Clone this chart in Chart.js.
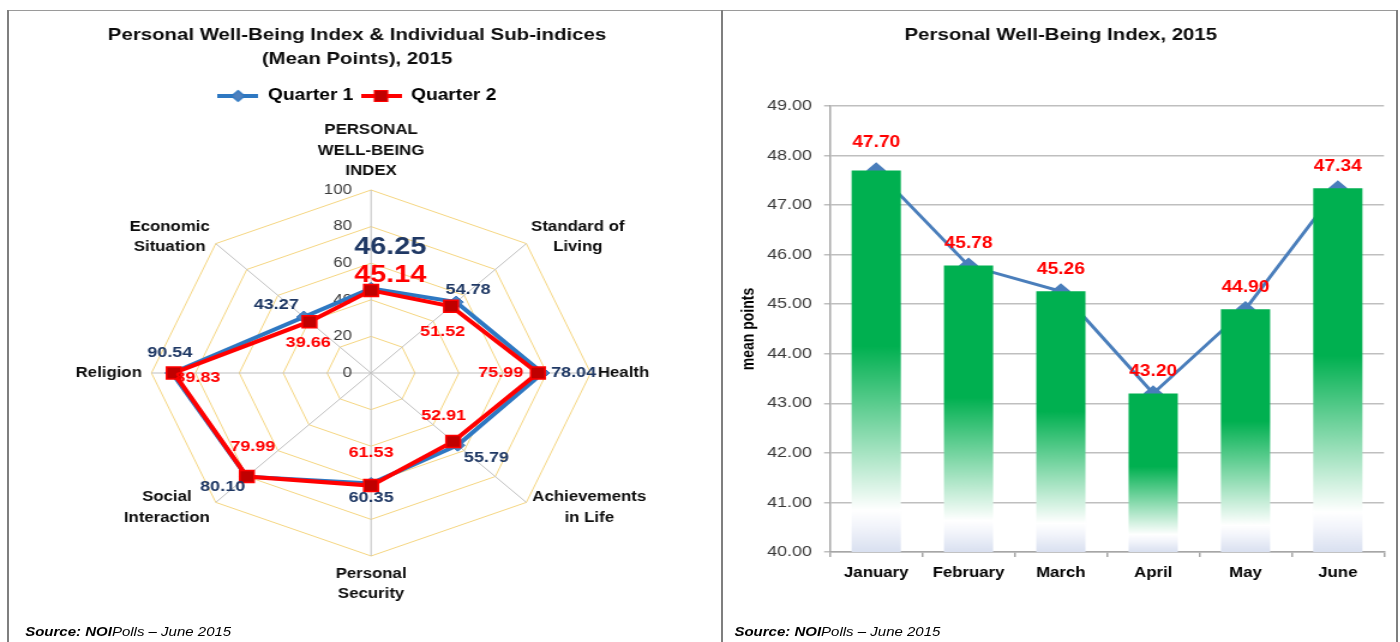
<!DOCTYPE html>
<html>
<head>
<meta charset="utf-8">
<script src="https://cdn.jsdelivr.net/npm/chart.js@4.4.1/dist/chart.umd.min.js"></script>
<style>
html,body{margin:0;padding:0;background:#fff;width:1400px;height:642px;overflow:hidden;}
#stage{position:absolute;left:0;top:0;width:1167px;height:642px;transform:scaleX(1.2);transform-origin:0 0;}
#radar{position:absolute;left:0;top:0;}
#bars{position:absolute;left:602px;top:0;}
.src{position:absolute;top:625px;font:italic 12.5px "Liberation Sans",Arial,sans-serif;color:#000;white-space:nowrap;}
.ln{position:absolute;background:#7f7f7f;}
</style>
</head>
<body>
<div id="stage">
  <canvas id="radar" width="600" height="642"></canvas>
  <canvas id="bars" width="564" height="642"></canvas>
  <div class="src" style="left:21px"><b>Source: NOI</b>Polls – June 2015</div>
  <div class="src" style="left:612px"><b>Source: NOI</b>Polls – June 2015</div>
</div>
<div class="ln" style="left:7px;top:10px;width:1391px;height:1px;background:#9a9a9a"></div>
<div class="ln" style="left:7px;top:10px;width:2px;height:632px"></div>
<div class="ln" style="left:721px;top:10px;width:2px;height:632px"></div>
<div class="ln" style="left:1396px;top:10px;width:2px;height:632px"></div>
<script>
// ---------- data ----------
const radarCategories = [
  ['PERSONAL', 'WELL-BEING', 'INDEX'],
  ['Standard of', 'Living'],
  ['Health'],
  ['Achievements', 'in Life'],
  ['Personal', 'Security'],
  ['Social', 'Interaction'],
  ['Religion'],
  ['Economic', 'Situation']
];
const seriesNames = ['Quarter 1', 'Quarter 2'];
const quarter1 = [46.25, 54.78, 78.04, 55.79, 60.35, 80.10, 90.54, 43.27];
const quarter2 = [45.14, 51.52, 75.99, 52.91, 61.53, 79.99, 89.83, 39.66];
const radarTickValues = [0, 20, 40, 60, 80, 100];

const months = ['January', 'February', 'March', 'April', 'May', 'June'];
const monthlyIndex = [47.70, 45.78, 45.26, 43.20, 44.90, 47.34];
const barTickValues = [40, 41, 42, 43, 44, 45, 46, 47, 48, 49];

// ---------- styles ----------
const FONT = '"Liberation Sans", Arial, sans-serif';
const Q1_LINE = '#2E78C2', Q1_MARK = '#4F81BD', Q1_TEXT = '#1F3864';
const Q2_LINE = '#FF0000', Q2_MARK = '#C00000', Q2_TEXT = '#FF0000';

const pointLabelPlacement = [
  {align: 'center', dx: 0, dy: -39},
  {align: 'left', dx: 4, dy: -6.6},
  {align: 'left', dx: 6, dy: 0},
  {align: 'left', dx: 5, dy: 5},
  {align: 'center', dx: 0, dy: 28},
  {align: 'right', dx: -5, dy: 5},
  {align: 'right', dx: -8, dy: 0},
  {align: 'right', dx: -5, dy: -6.6}
];
const q1LabelOffsets = [[16, -41], [10, -12], [26, 0], [24, 13], [0, 14], [-20, 10], [-2, -20], [-23, -12]];
const q2LabelOffsets = [[16, -15], [-7, 26], [-31, 0], [-8, -26], [0, -33], [5, -30], [20, 5], [-1, 21]];
const barLabelLift = [28, 22, 22, 22, 22, 22];

function legendIcon(line, fill, shape) {
  const c = document.createElement('canvas');
  c.width = 34; c.height = 14;
  const g = c.getContext('2d');
  g.strokeStyle = line; g.lineWidth = 4;
  g.beginPath(); g.moveTo(0, 7); g.lineTo(34, 7); g.stroke();
  g.fillStyle = fill; g.strokeStyle = line; g.lineWidth = 1.2;
  g.beginPath();
  if (shape === 'diamond') {
    g.moveTo(17, 1.5); g.lineTo(22.5, 7); g.lineTo(17, 12.5); g.lineTo(11.5, 7); g.closePath();
  } else {
    g.rect(11.5, 1.5, 11, 11);
  }
  g.fill(); g.stroke();
  return c;
}
const legendIcons = [legendIcon(Q1_LINE, Q1_MARK, 'diamond'), legendIcon(Q2_LINE, Q2_MARK, 'square')];

// ---------- radar text plugin ----------
const radarText = {
  id: 'radarText',
  beforeDatasetsDraw(chart) {
    const s = chart.scales.r, ctx = chart.ctx;
    ctx.save();
    ctx.font = '14px ' + FONT;
    ctx.fillStyle = '#3a3a3a';
    ctx.textAlign = 'right';
    ctx.textBaseline = 'middle';
    radarTickValues.forEach(v => {
      const d = s.getDistanceFromCenterForValue(v);
      ctx.fillText(String(v), s.xCenter - 16, s.yCenter - d);
    });
    ctx.restore();
  },
  afterDatasetsDraw(chart) {
    const ctx = chart.ctx, s = chart.scales.r;
    ctx.save();
    ctx.textAlign = 'center';
    ctx.textBaseline = 'middle';
    const sets = [[quarter1, q1LabelOffsets, Q1_TEXT], [quarter2, q2LabelOffsets, Q2_TEXT]];
    sets.forEach(([vals, offs, col], di) => {
      const meta = chart.getDatasetMeta(di);
      meta.data.forEach((el, i) => {
        ctx.font = 'bold ' + (i === 0 ? 24 : 15) + 'px ' + FONT;
        ctx.fillStyle = col;
        ctx.fillText(vals[i].toFixed(2), el.x + offs[i][0], el.y + offs[i][1]);
      });
    });
    // point labels
    ctx.font = 'bold 14px ' + FONT;
    ctx.fillStyle = '#0D0D0D';
    radarCategories.forEach((lines, i) => {
      const p = s.getPointPosition(i, s.drawingArea);
      const pl = pointLabelPlacement[i];
      const w = Math.max(...lines.map(t => ctx.measureText(t).width));
      let left = p.x + pl.dx;
      if (pl.align === 'right') left -= w;
      else if (pl.align === 'center') left -= w / 2;
      const cy = p.y + pl.dy;
      lines.forEach((t, k) => {
        ctx.fillText(t, left + w / 2, cy + (k - (lines.length - 1) / 2) * 20.5);
      });
    });
    ctx.restore();
  }
};

new Chart(document.getElementById('radar'), {
  type: 'radar',
  data: {
    labels: radarCategories,
    datasets: [
      {label: seriesNames[0], data: quarter1, borderColor: Q1_LINE, borderWidth: 4, backgroundColor: 'transparent', fill: false,
       pointStyle: 'rectRot', pointRadius: 6, pointBackgroundColor: Q1_MARK, pointBorderColor: Q1_LINE, pointBorderWidth: 1, order: 1, clip: false},
      {label: seriesNames[1], data: quarter2, borderColor: Q2_LINE, borderWidth: 4, backgroundColor: 'transparent', fill: false,
       pointStyle: 'rect', pointRadius: 8.5, pointBackgroundColor: Q2_MARK, pointBorderColor: Q2_LINE, pointBorderWidth: 1.5, order: 0, clip: false}
    ]
  },
  options: {
    responsive: false, animation: false, devicePixelRatio: 1,
    layout: {padding: {left: 0, right: 5, top: 0, bottom: 0}},
    plugins: {
      title: {display: true, text: ['Personal Well-Being Index & Individual Sub-indices', '(Mean Points), 2015'],
        font: {family: FONT, size: 17, weight: 'bold', lineHeight: 24 / 17}, color: '#0D0D0D', padding: {top: 23, bottom: 11}},
      legend: {display: true, labels: {usePointStyle: true, pointStyleWidth: 34, padding: 6,
        font: {family: FONT, size: 16, weight: 'bold'}, color: '#000',
        generateLabels: chart => chart.data.datasets.map((ds, i) => ({
          text: ds.label, pointStyle: legendIcons[i], fillStyle: 'transparent', strokeStyle: 'transparent',
          lineWidth: 0, hidden: false, datasetIndex: i, fontColor: '#000'}))}},
      tooltip: {enabled: false}
    },
    scales: {
      r: {
        min: radarTickValues[0], max: radarTickValues[radarTickValues.length - 1],
        ticks: {display: false, stepSize: radarTickValues[1] - radarTickValues[0]},
        pointLabels: {display: false},
        grid: {color: '#F5D682', lineWidth: 1},
        angleLines: {color: '#BFBFBF', lineWidth: 1},
        afterFit: s => { s.xCenter = 309.2; s.yCenter = 373; s.drawingArea = 183; }
      }
    }
  },
  plugins: [radarText]
});

// ---------- bar chart ----------
const barText = {
  id: 'barText',
  afterDatasetsDraw(chart) {
    const ctx = chart.ctx;
    const meta = chart.getDatasetMeta(0);
    ctx.save();
    ctx.font = 'bold 16px ' + FONT;
    ctx.fillStyle = '#FF0000';
    ctx.textAlign = 'center';
    ctx.textBaseline = 'middle';
    meta.data.forEach((el, i) => {
      ctx.fillText(monthlyIndex[i].toFixed(2), el.x, el.y - barLabelLift[i]);
    });
    ctx.restore();
  }
};

function barGradient(c) {
  const chart = c.chart;
  if (!chart.chartArea || c.raw === undefined) return '#00B050';
  const y = chart.scales.y;
  const top = y.getPixelForValue(c.raw), bottom = y.getPixelForValue(y.min);
  const g = chart.ctx.createLinearGradient(0, top, 0, bottom);
  g.addColorStop(0, '#00B050');
  g.addColorStop(0.46, '#00B050');
  g.addColorStop(0.89, '#FFFFFF');
  g.addColorStop(0.93, '#F3F5FB');
  g.addColorStop(1, '#D9E0F0');
  return g;
}

new Chart(document.getElementById('bars'), {
  type: 'bar',
  data: {
    labels: months,
    datasets: [
      {type: 'bar', label: 'Index', data: monthlyIndex, backgroundColor: barGradient, borderWidth: 0,
       categoryPercentage: 1, barPercentage: 0.533, order: 0},
      {type: 'line', label: 'Trend', data: monthlyIndex, borderColor: '#4A7EBB', borderWidth: 3, tension: 0,
       pointStyle: 'rectRot', pointRadius: 6, pointBackgroundColor: '#4A7EBB', pointBorderColor: '#4A7EBB', order: 1, clip: false}
    ]
  },
  options: {
    responsive: false, animation: false, devicePixelRatio: 1,
    layout: {padding: {left: 12.7, right: 12.7, top: 0, bottom: 50}},
    plugins: {
      title: {display: true, text: 'Personal Well-Being Index, 2015',
        font: {family: FONT, size: 17, weight: 'bold', lineHeight: 1.2}, color: '#0D0D0D', padding: {top: 25, bottom: 60.6}},
      legend: {display: false},
      tooltip: {enabled: false}
    },
    scales: {
      x: {
        grid: {display: true, drawOnChartArea: false, drawTicks: true, tickLength: 5, color: '#A6A6A6', lineWidth: 1.5, offset: true},
        border: {display: true, color: '#A6A6A6', width: 1.5},
        ticks: {font: {family: FONT, size: 14, weight: 'bold'}, color: '#000', padding: 8},
        afterFit: s => { s.height = 40; }
      },
      y: {
        min: barTickValues[0], max: barTickValues[barTickValues.length - 1],
        ticks: {stepSize: 1, callback: v => v.toFixed(2), font: {family: FONT, size: 15}, color: '#3a3a3a', padding: 10},
        grid: {color: '#BFBFBF', lineWidth: 1.5, tickLength: 5},
        border: {display: true, color: '#A6A6A6', width: 1.5},
        title: {display: true, text: 'mean points', font: {family: FONT, size: 14, weight: 'bold'}, color: '#000', padding: {top: 1, bottom: 0}},
        afterFit: s => { s.width = 77; }
      }
    }
  },
  plugins: [barText]
});
</script>
</body>
</html>
